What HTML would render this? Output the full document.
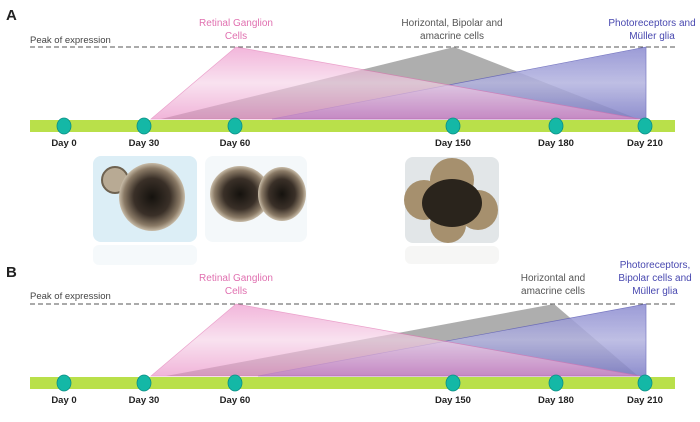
<!DOCTYPE html><html><head><style>
body{margin:0;background:#fff;width:700px;height:417px;overflow:hidden;font-family:"Liberation Sans",sans-serif}
</style></head><body>
<svg width="700" height="417" xmlns="http://www.w3.org/2000/svg" font-family="Liberation Sans, sans-serif">
<defs>
<linearGradient id="pk" x1="0" y1="0" x2="0" y2="1"><stop offset="0" stop-color="#ec8fc8"/><stop offset="0.5" stop-color="#f6d3e8"/><stop offset="1" stop-color="#ea8ec6"/></linearGradient>
<linearGradient id="bl" x1="0" y1="0" x2="0" y2="1"><stop offset="0" stop-color="#8a8ad0"/><stop offset="0.5" stop-color="#b4b4e0"/><stop offset="1" stop-color="#7c7cc6"/></linearGradient>
<radialGradient id="blob" cx="0.5" cy="0.5" r="0.5"><stop offset="0" stop-color="#15120e"/><stop offset="0.55" stop-color="#3a3028"/><stop offset="0.85" stop-color="#8a7a66"/><stop offset="1" stop-color="#c8bca8"/></radialGradient>
</defs>
<g id="A">
<text x="6" y="20" font-size="15" font-weight="bold" fill="#222">A</text>
<text x="30" y="43" font-size="9.5" fill="#444">Peak of expression</text>
<line x1="30" y1="47" x2="675" y2="47" stroke="#555" stroke-dasharray="5,3" stroke-width="1"/>
<polygon points="161,119 454,47 638,119" fill="#9a9a9a" opacity="0.8"/>
<polygon points="272,119 646,47 646,119" fill="url(#bl)" opacity="0.85" stroke="#6262b8" stroke-width="0.7"/>
<polygon points="151,119 236,47 640,119" fill="url(#pk)" opacity="0.65" stroke="#e070b0" stroke-width="0.7"/>
<rect x="30" y="120" width="645" height="12" fill="#b9e04a"/>
<g fill="#14b8a6" stroke="#0b8f86" stroke-width="0.8">
<ellipse cx="64" cy="126" rx="7" ry="8"/><ellipse cx="144" cy="126" rx="7" ry="8"/><ellipse cx="235" cy="126" rx="7" ry="8"/><ellipse cx="453" cy="126" rx="7" ry="8"/><ellipse cx="556" cy="126" rx="7" ry="8"/><ellipse cx="645" cy="126" rx="7" ry="8"/></g>
<g font-size="9.5" font-weight="bold" fill="#222" text-anchor="middle">
<text x="64" y="146">Day 0</text><text x="144" y="146">Day 30</text><text x="235" y="146">Day 60</text><text x="453" y="146">Day 150</text><text x="556" y="146">Day 180</text><text x="645" y="146">Day 210</text></g>
<g font-size="10" text-anchor="middle">
<text x="236" y="26" fill="#e070b0">Retinal Ganglion</text><text x="236" y="39" fill="#e070b0">Cells</text>
<text x="452" y="26" fill="#555">Horizontal, Bipolar and</text><text x="452" y="39" fill="#555">amacrine cells</text>
<text x="652" y="26" fill="#4848b0">Photoreceptors and</text><text x="652" y="39" fill="#4848b0">Müller glia</text></g>
</g>
<g>
<rect x="93" y="156" width="104" height="86" rx="8" fill="#dceef6"/>
<rect x="93" y="245" width="104" height="20" rx="6" fill="#eef5f8" opacity="0.6"/>
<circle cx="115" cy="180" r="13" fill="#b8aa94" stroke="#6e6250" stroke-width="2"/>
<ellipse cx="152" cy="197" rx="33" ry="34" fill="url(#blob)"/>
<rect x="205" y="156" width="102" height="86" rx="8" fill="#f4f8fa"/>
<ellipse cx="240" cy="194" rx="30" ry="28" fill="url(#blob)"/>
<ellipse cx="282" cy="194" rx="24" ry="27" fill="url(#blob)"/>
<rect x="405" y="157" width="94" height="86" rx="8" fill="#e2e6e8"/>
<rect x="405" y="246" width="94" height="18" rx="6" fill="#f0f0ee" opacity="0.6"/>
<circle cx="452" cy="180" r="22" fill="#a6906e"/>
<circle cx="424" cy="200" r="20" fill="#a6906e"/>
<circle cx="478" cy="210" r="20" fill="#a6906e"/>
<circle cx="448" cy="225" r="18" fill="#a6906e"/>
<ellipse cx="452" cy="203" rx="30" ry="24" fill="#2a241c"/>
</g>
<g id="B">
<text x="6" y="277" font-size="15" font-weight="bold" fill="#222">B</text>
<text x="30" y="299" font-size="9.5" fill="#444">Peak of expression</text>
<line x1="30" y1="304" x2="675" y2="304" stroke="#555" stroke-dasharray="5,3" stroke-width="1"/>
<polygon points="166,376 554,304 638,376" fill="#9a9a9a" opacity="0.8"/>
<polygon points="258,376 646,304 646,376" fill="url(#bl)" opacity="0.85" stroke="#6262b8" stroke-width="0.7"/>
<polygon points="151,376 236,304 640,376" fill="url(#pk)" opacity="0.65" stroke="#e070b0" stroke-width="0.7"/>
<rect x="30" y="377" width="645" height="12" fill="#b9e04a"/>
<g fill="#14b8a6" stroke="#0b8f86" stroke-width="0.8">
<ellipse cx="64" cy="383" rx="7" ry="8"/><ellipse cx="144" cy="383" rx="7" ry="8"/><ellipse cx="235" cy="383" rx="7" ry="8"/><ellipse cx="453" cy="383" rx="7" ry="8"/><ellipse cx="556" cy="383" rx="7" ry="8"/><ellipse cx="645" cy="383" rx="7" ry="8"/></g>
<g font-size="9.5" font-weight="bold" fill="#222" text-anchor="middle">
<text x="64" y="403">Day 0</text><text x="144" y="403">Day 30</text><text x="235" y="403">Day 60</text><text x="453" y="403">Day 150</text><text x="556" y="403">Day 180</text><text x="645" y="403">Day 210</text></g>
<g font-size="10" text-anchor="middle">
<text x="236" y="281" fill="#e070b0">Retinal Ganglion</text><text x="236" y="294" fill="#e070b0">Cells</text>
<text x="553" y="281" fill="#555">Horizontal and</text><text x="553" y="294" fill="#555">amacrine cells</text>
<text x="655" y="268" fill="#4848b0">Photoreceptors,</text><text x="655" y="281" fill="#4848b0">Bipolar cells and</text><text x="655" y="294" fill="#4848b0">Müller glia</text></g>
</g>
</svg>
</body></html>
